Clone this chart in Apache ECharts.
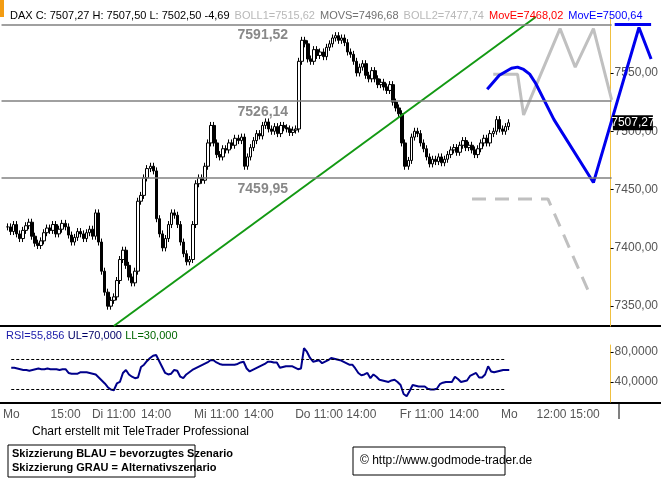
<!DOCTYPE html>
<html>
<head>
<meta charset="utf-8">
<script src="https://cdn.jsdelivr.net/npm/echarts@6/dist/echarts.min.js"></script>
<style>
  html, body { margin: 0; padding: 0; background: #fff; }
  #main { width: 661px; height: 481px; }
</style>
</head>
<body>
<div id="main"></div>
<script>
// 15-minute bars, first bar sits in slot 2
var firstSlot = 2;
var closes = [
    7418, 7414, 7420, 7412, 7408, 7415, 7419, 7422, 7410, 7404, 7402, 7406, 7413, 7417, 7415, 7420, 7412, 7416, 7421, 7418, 7411, 7405, 7409, 7414, 7412, 7408, 7413, 7416, 7410, 7430,
    7405, 7380, 7362, 7350, 7355,
    7358, 7372, 7390, 7398, 7385, 7375,
    7370, 7380, 7440, 7445,
    7460, 7468, 7470, 7466, 7425,
    7412, 7400, 7408, 7420, 7430,
    7428, 7420, 7405, 7395, 7388,
    7390, 7420, 7455, 7460, 7458,
    7470, 7490, 7505, 7490, 7480,
    7478, 7485, 7484, 7490, 7488, 7494, 7492, 7495, 7470,
    7478, 7486, 7492, 7498, 7496,
    7505, 7508, 7502, 7500, 7504,
    7498, 7505, 7503, 7502, 7499, 7501, 7502,
    7560, 7578, 7575, 7562, 7560, 7570, 7565, 7568, 7564, 7572, 7575, 7580, 7582, 7578, 7580, 7576,
    7568, 7566, 7560, 7550, 7555, 7558, 7548, 7545, 7552, 7545, 7540, 7542, 7538, 7535, 7540, 7525, 7520, 7515,
    7490, 7470, 7475, 7495, 7500, 7498, 7490, 7485, 7478, 7472, 7476, 7474, 7478, 7473, 7476, 7480, 7484, 7486,
    7482, 7488, 7492, 7486, 7488, 7484, 7480, 7485, 7490, 7494, 7490, 7498, 7500, 7510, 7502, 7500, 7504, 7507.27
];
var rsi = [
    59, 59, 58, 57, 56, 56, 55, 56, 57, 58, 57, 57, 58, 57, 57, 57, 56, 57, 57,
    52, 51, 51, 51, 53, 53, 53, 52, 51, 50, 46, 42, 38, 33, 30, 29, 38, 40,
    52, 56, 50, 47, 45, 46, 60, 63, 68, 72, 75, 76, 68, 60, 52, 50, 51, 56,
    55, 47, 45, 50, 53, 56, 58, 60, 62, 64, 66,
    69, 69, 66, 64, 63, 63, 63, 63, 63, 64, 66, 67, 58, 54, 56, 58, 60, 62,
    64, 67, 67, 66, 66, 59, 60, 61, 61, 61, 59, 57, 58,
    85, 80, 72, 67, 68, 69, 65, 67, 69, 72, 71, 70, 69, 67, 65,
    63, 63, 58, 52, 49, 50, 52, 45, 50, 47, 43, 42, 41, 40, 42, 43, 40, 36,
    24, 21, 28, 36, 35, 34, 34, 34, 31, 30, 30, 31, 37, 39, 40, 40, 40, 47,
    44, 40, 41, 42, 48, 50, 52, 46, 46, 50, 61, 54, 53, 54, 55, 56, 56, 56
];
var tickLabels = { 2: 'Mo', 20: '15:00', 36: 'Di 11:00', 50: '14:00', 70: 'Mi 11:00', 84: '14:00',
    104: 'Do 11:00', 118: '14:00', 138: 'Fr 11:00', 152: '14:00', 167: 'Mo', 181: '12:00', 192: '15:00' };
var priceTicks = [7350, 7400, 7450, 7500, 7550];
var rsiTicks = [40, 80];
var levels = [7591.52, 7526.14, 7459.95];
var lastPrice = 7507.27;
var trendLine = [[37, 7333], [176, 7598]];
var greySolid = [[162, 7549], [170, 7549], [172, 7514], [184, 7588], [189, 7555], [195, 7588], [201, 7527]];
var greyDashed = [[155, 7442], [180, 7442], [194, 7359]];
var blueCurve = [[160, 7536], [162, 7542], [164, 7548], [166, 7551], [168, 7554], [170, 7555], [172, 7553], [174, 7549], [176, 7541], [182, 7510], [195, 7456], [210, 7589], [214, 7562]];
var blueTop = [[202, 7591.5], [214, 7591.5]];

var slotCount = 215;
var cats = [];
var candles = [];
var rsiData = [];
for (var i = 0; i < slotCount; i++) {
    cats.push(String(i));
    candles.push('-');
    rsiData.push('-');
}
closes.forEach(function (c, i) {
    var o = i > 0 ? closes[i - 1] : c;
    candles[firstSlot + i] = [o, c, Math.min(o, c) - 3, Math.max(o, c) + 3];
    rsiData[firstSlot + i] = rsi[i];
});

function de(v, d) { return v.toFixed(d).replace('.', ','); }

var myChart = echarts.init(document.getElementById('main'));
var font = 'Arial, "Liberation Sans", sans-serif';

var levelLines = levels.map(function (v) {
    return [{ name: de(v, 2), coord: ['0', v] }, { coord: ['201', v] }];
});

var option = {
    animation: false,
    textStyle: { fontFamily: font },
    title: {
        text: '{k|DAX C: 7507,27 H: 7507,50 L: 7502,50 -4,69} {g|BOLL1=7515,62} {d|MOVS=7496,68} {g|BOLL2=7477,74} {r|MovE=7468,02} {b|MovE=7500,64}',
        left: 5, top: 2,
        textStyle: {
            fontWeight: 'normal',
            rich: {
                k: { color: '#000', fontSize: 11, fontWeight: 'normal', fontFamily: font },
                g: { color: '#b8b8b8', fontSize: 11, fontWeight: 'normal', fontFamily: font },
                d: { color: '#707070', fontSize: 11, fontWeight: 'normal', fontFamily: font },
                r: { color: '#ff0000', fontSize: 11, fontWeight: 'normal', fontFamily: font },
                b: { color: '#0000ff', fontSize: 11, fontWeight: 'normal', fontFamily: font }
            }
        }
    },
    grid: [
        { left: 0, right: 0, top: 17, height: 309 },
        { left: 0, right: 0, top: 345, height: 57 }
    ],
    xAxis: [
        { type: 'category', gridIndex: 0, data: cats, boundaryGap: true,
          axisLine: { show: false }, axisTick: { show: false }, axisLabel: { show: false }, splitLine: { show: false } },
        { type: 'category', gridIndex: 1, data: cats, boundaryGap: true,
          axisLine: { show: false }, axisTick: { show: false },
          axisLabel: {
              interval: 0, color: '#555', fontSize: 12, margin: 7,
              formatter: function (v) { return tickLabels[v] || ''; }
          } }
    ],
    yAxis: [
        { type: 'value', gridIndex: 0, min: 7333, max: 7598, position: 'right', offset: -42,
          axisLine: { show: true, lineStyle: { color: '#f0c040' } },
          axisTick: { show: true, length: 3, customValues: priceTicks, lineStyle: { color: '#000' } },
          axisLabel: { color: '#555', fontSize: 12, margin: 4, customValues: priceTicks,
                       formatter: function (v) { return de(v, 2); } },
          splitLine: { show: false } },
        { type: 'value', gridIndex: 1, min: 13.3, max: 89.3, position: 'right', offset: -42,
          axisLine: { show: true, lineStyle: { color: '#f0c040' } },
          axisTick: { show: true, length: 3, customValues: rsiTicks, lineStyle: { color: '#000' } },
          axisLabel: { color: '#555', fontSize: 12, margin: 4, customValues: rsiTicks,
                       formatter: function (v) { return de(v, 4); } },
          splitLine: { show: false } }
    ],
    series: [
        {
            type: 'candlestick', xAxisIndex: 0, yAxisIndex: 0, barWidth: 3,
            data: candles,
            itemStyle: { color: '#fff', color0: '#000', borderColor: '#000', borderColor0: '#000', borderWidth: 1 },
            markLine: {
                silent: true, symbol: 'none',
                lineStyle: { color: '#808080', type: 'solid', width: 1.5 },
                label: {
                    position: 'insideStartBottom', distance: [236, 4], color: '#888', fontWeight: 'bold', fontSize: 14,
                    formatter: '{b}'
                },
                data: levelLines
            },
            markPoint: {
                silent: true, symbol: 'rect', symbolSize: [40, 15],
                itemStyle: { color: '#000' },
                label: { show: true, position: 'inside', color: '#fff', fontSize: 12, formatter: '{b}' },
                data: [{ name: de(lastPrice, 2), coord: ['208', lastPrice] }]
            }
        },
        { type: 'line', xAxisIndex: 0, yAxisIndex: 0, data: trendLine, symbol: 'none',
          lineStyle: { color: '#139913', width: 2 } },
        { type: 'line', xAxisIndex: 0, yAxisIndex: 0, data: greySolid, symbol: 'none',
          lineStyle: { color: '#c0c0c0', width: 3 } },
        { type: 'line', xAxisIndex: 0, yAxisIndex: 0, data: greyDashed, symbol: 'none',
          lineStyle: { color: '#c0c0c0', width: 3, type: [14, 9] } },
        { type: 'line', xAxisIndex: 0, yAxisIndex: 0, data: blueCurve, symbol: 'none',
          lineStyle: { color: '#0000ee', width: 3 } },
        { type: 'line', xAxisIndex: 0, yAxisIndex: 0, data: blueTop, symbol: 'none',
          lineStyle: { color: '#0000ee', width: 3 } },
        {
            type: 'line', xAxisIndex: 1, yAxisIndex: 1, data: rsiData, symbol: 'none',
            lineStyle: { color: '#00008b', width: 2 },
            markLine: {
                silent: true, symbol: 'none', label: { show: false },
                lineStyle: { color: '#000', type: [3, 2], width: 1 },
                data: [
                    [{ coord: ['2', 70] }, { coord: ['166', 70] }],
                    [{ coord: ['2', 30] }, { coord: ['166', 30] }]
                ]
            }
        }
    ],
    graphic: [
        { type: 'rect', shape: { x: 0, y: 0, width: 4, height: 17 }, style: { fill: '#f39c12' } },
        { type: 'line', shape: { x1: 0, y1: 326, x2: 661, y2: 326 }, style: { stroke: '#000', lineWidth: 2 } },
        { type: 'line', shape: { x1: 0, y1: 403, x2: 661, y2: 403 }, style: { stroke: '#000', lineWidth: 2 } },
        { type: 'line', shape: { x1: 619, y1: 403, x2: 619, y2: 419 }, style: { stroke: '#000', lineWidth: 1 } },
        { type: 'text', left: 6, top: 330, style: {
            rich: {
                a: { fill: '#1a1aaa', fontSize: 11, fontFamily: font },
                b: { fill: '#000066', fontSize: 11, fontFamily: font },
                c: { fill: '#006600', fontSize: 11, fontFamily: font }
            },
            text: '{a|RSI=55,856} {b|UL=70,000} {c|LL=30,000}' } },
        { type: 'text', left: 32, top: 426, style: { text: 'Chart erstellt mit TeleTrader Professional', fill: '#000', fontSize: 12, fontFamily: font } },
        { type: 'rect', shape: { x: 8, y: 445, width: 187, height: 32 }, style: { fill: '#fff', stroke: '#000', lineWidth: 1 } },
        { type: 'text', left: 12, top: 448, style: { text: 'Skizzierung BLAU = bevorzugtes Szenario', fill: '#000', fontSize: 11, fontWeight: 'bold', fontFamily: font } },
        { type: 'text', left: 12, top: 462, style: { text: 'Skizzierung GRAU = Alternativszenario', fill: '#000', fontSize: 11, fontWeight: 'bold', fontFamily: font } },
        { type: 'rect', shape: { x: 353, y: 447, width: 152, height: 28 }, style: { fill: '#fff', stroke: '#000', lineWidth: 1 } },
        { type: 'text', left: 360, top: 455, style: { text: '© http://www.godmode-trader.de', fill: '#000', fontSize: 12, fontFamily: font } }
    ]
};

option && myChart.setOption(option);
</script>
</body>
</html>
